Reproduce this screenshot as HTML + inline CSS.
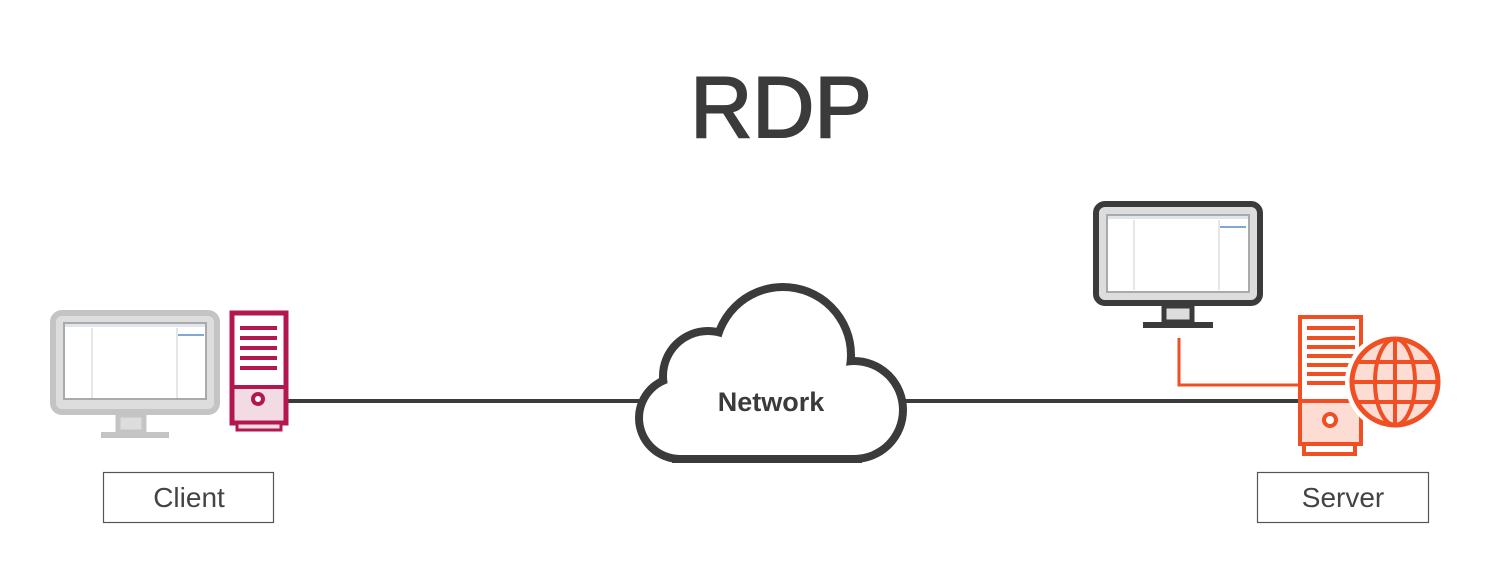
<!DOCTYPE html>
<html><head><meta charset="utf-8"><style>
html,body{margin:0;padding:0;background:#fff;width:1495px;height:580px;overflow:hidden}
</style></head><body>
<svg width="1495" height="580" viewBox="0 0 1495 580" xmlns="http://www.w3.org/2000/svg">
<rect width="1495" height="580" fill="#fff"/>
<text x="781" y="137" text-anchor="middle" font-family="Liberation Sans, sans-serif" font-size="86" fill="#3b3b3b" stroke="#3b3b3b" stroke-width="2">RDP</text>

<!-- connectors -->
<line x1="288" y1="401" x2="645" y2="401" stroke="#3b3b3b" stroke-width="4"/>
<line x1="900" y1="401" x2="1298" y2="401" stroke="#3b3b3b" stroke-width="4"/>
<polyline points="1179,338 1179,385 1298,385" fill="none" stroke="#f04e23" stroke-width="3"/>

<!-- cloud -->
<g fill="#3b3b3b" stroke="#3b3b3b" stroke-width="16">
<circle cx="680" cy="418" r="37"/><circle cx="708" cy="376" r="41"/><circle cx="783" cy="355" r="64"/><circle cx="854" cy="410" r="45"/><rect x="680" y="380" width="174" height="75"/>
</g>
<g fill="#fff">
<circle cx="680" cy="418" r="37"/><circle cx="708" cy="376" r="41"/><circle cx="783" cy="355" r="64"/><circle cx="854" cy="410" r="45"/><rect x="680" y="380" width="174" height="75"/>
</g>
<text x="771" y="411" text-anchor="middle" font-family="Liberation Sans, sans-serif" font-weight="bold" font-size="27" fill="#3b3b3b">Network</text>

<!-- client monitor -->
<rect x="53" y="313" width="164" height="99" rx="9" fill="#ddd" stroke="#c4c4c4" stroke-width="6"/>
<rect x="63" y="322" width="144" height="78" fill="#aaa"/>
<rect x="65" y="324" width="140" height="74" fill="#fff"/>
<rect x="65" y="324" width="140" height="3" fill="#dfe6ee"/>
<line x1="92" y1="328" x2="92" y2="398" stroke="#ccc" stroke-width="1"/>
<line x1="177" y1="328" x2="177" y2="398" stroke="#ccc" stroke-width="1"/>
<rect x="178" y="334" width="26" height="2" fill="#7fa8d6"/>
<rect x="118" y="415" width="26" height="17" fill="#ddd" stroke="#c4c4c4" stroke-width="5"/>
<rect x="101" y="432" width="68" height="6" fill="#c4c4c4"/>

<!-- client tower -->
<rect x="232" y="313" width="54" height="110" fill="#fff" stroke="#b3174f" stroke-width="5"/>
<rect x="234.5" y="387" width="49" height="33.5" fill="#f2dbe3"/>
<line x1="232" y1="387" x2="286" y2="387" stroke="#b3174f" stroke-width="4"/>
<g stroke="#b3174f" stroke-width="4"><line x1="240" y1="328" x2="277" y2="328"/><line x1="240" y1="338" x2="277" y2="338"/><line x1="240" y1="348" x2="277" y2="348"/><line x1="240" y1="358" x2="277" y2="358"/><line x1="240" y1="368" x2="277" y2="368"/></g>
<circle cx="258" cy="399" r="5" fill="#fff" stroke="#b3174f" stroke-width="4"/>
<rect x="237" y="423" width="44" height="7" fill="#f2dbe3" stroke="#b3174f" stroke-width="3"/>

<!-- labels -->
<rect x="103.5" y="472.5" width="170" height="50" fill="#fff" stroke="#555" stroke-width="1.2"/>
<text x="189" y="507" text-anchor="middle" font-family="Liberation Sans, sans-serif" font-size="28" fill="#444">Client</text>
<rect x="1257.5" y="472.5" width="171" height="50" fill="#fff" stroke="#555" stroke-width="1.2"/>
<text x="1343" y="507" text-anchor="middle" font-family="Liberation Sans, sans-serif" font-size="28" fill="#444">Server</text>

<!-- server monitor -->
<rect x="1096" y="204" width="164" height="99" rx="9" fill="#ddd" stroke="#3b3b3b" stroke-width="6"/>
<rect x="1106" y="214" width="144" height="79" fill="#aaa"/>
<rect x="1108" y="216" width="140" height="75" fill="#fff"/>
<rect x="1108" y="216" width="140" height="3" fill="#dfe6ee"/>
<line x1="1134" y1="220" x2="1134" y2="290" stroke="#ccc" stroke-width="1"/>
<line x1="1219" y1="220" x2="1219" y2="290" stroke="#ccc" stroke-width="1"/>
<rect x="1220" y="226" width="26" height="2" fill="#7fa8d6"/>
<rect x="1164" y="306" width="28" height="16" fill="#ddd" stroke="#3b3b3b" stroke-width="5"/>
<rect x="1143" y="322" width="70" height="6" fill="#3b3b3b"/>

<!-- server tower -->
<rect x="1300" y="317" width="61" height="127" fill="#fff" stroke="#f04e23" stroke-width="4"/>
<rect x="1302" y="401" width="57" height="41" fill="#fcdcd3"/>
<line x1="1300" y1="401" x2="1361" y2="401" stroke="#f04e23" stroke-width="4"/>
<g stroke="#f04e23" stroke-width="4"><line x1="1307" y1="328" x2="1355" y2="328"/><line x1="1307" y1="338" x2="1355" y2="338"/><line x1="1307" y1="347" x2="1355" y2="347"/><line x1="1307" y1="356" x2="1355" y2="356"/><line x1="1307" y1="365" x2="1355" y2="365"/><line x1="1307" y1="374" x2="1355" y2="374"/><line x1="1307" y1="383" x2="1355" y2="383"/></g>
<circle cx="1330" cy="420" r="6" fill="#fff" stroke="#f04e23" stroke-width="4"/>
<rect x="1304" y="444" width="51" height="10" fill="#fff" stroke="#f04e23" stroke-width="4"/>

<!-- globe -->
<circle cx="1395" cy="382" r="50" fill="#fff"/>
<circle cx="1395" cy="382" r="43" fill="#fcdcd3" stroke="#f04e23" stroke-width="5"/>
<g fill="none" stroke="#f04e23" stroke-width="4">
<ellipse cx="1395" cy="382" rx="20" ry="43"/>
<line x1="1395" y1="339" x2="1395" y2="425"/>
<line x1="1352" y1="382" x2="1438" y2="382"/>
<line x1="1359" y1="362" x2="1431" y2="362"/>
<line x1="1359" y1="402" x2="1431" y2="402"/>
</g>
</svg>
</body></html>
